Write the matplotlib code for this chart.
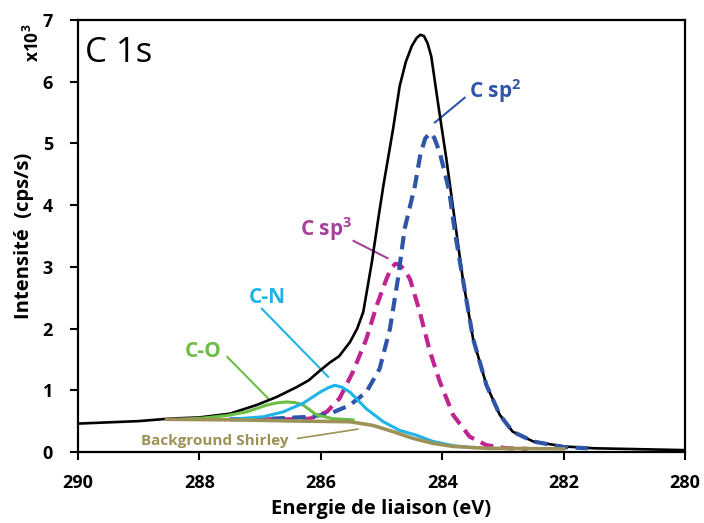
import matplotlib
matplotlib.use("Agg")
import matplotlib.pyplot as plt

plt.rcParams['font.family'] = ['Open Sans', 'DejaVu Sans']
plt.rcParams['mathtext.fontset'] = 'custom'
plt.rcParams['mathtext.rm'] = 'Open Sans'
plt.rcParams['mathtext.bf'] = 'Open Sans:bold'

# measured spectrum (x10^3 cps/s) vs binding energy (eV)
exp_x = [290.0, 289.5, 289.0, 288.5, 288.0, 287.5, 287.06, 286.73, 286.4, 286.2,
         286.0, 285.85, 285.7, 285.52, 285.4, 285.3, 285.16, 285.05, 284.97, 284.81,
         284.7, 284.6, 284.5, 284.42, 284.36, 284.3, 284.24, 284.18, 284.07, 283.93,
         283.82, 283.66, 283.49, 283.27, 283.05, 282.84, 282.5, 282.0, 281.5, 281.0,
         280.5, 280.0]
exp_y = [0.46, 0.48, 0.50, 0.54, 0.56, 0.62, 0.76, 0.89, 1.05, 1.16,
         1.33, 1.45, 1.55, 1.78, 2.0, 2.27, 3.07, 3.8, 4.31, 5.23,
         5.93, 6.32, 6.58, 6.71, 6.76, 6.74, 6.62, 6.41, 5.66, 4.74,
         3.95, 2.80, 1.83, 1.08, 0.60, 0.33, 0.17, 0.09, 0.06, 0.05,
         0.04, 0.03]

# fitted components
sp2_x = [287.5, 286.8, 286.18, 285.85, 285.52, 285.25, 285.03, 284.86, 284.73, 284.62,
         284.45, 284.36, 284.28, 284.2, 284.13, 284.04, 283.95, 283.88, 283.79, 283.66,
         283.49, 283.27, 283.05, 282.84, 282.5, 282.0, 281.6]
sp2_y = [0.53, 0.54, 0.57, 0.62, 0.76, 0.97, 1.35, 2.0, 2.80, 3.61,
         4.31, 4.82, 5.08, 5.17, 5.09, 4.85, 4.5, 4.2, 3.56, 2.80,
         1.83, 1.08, 0.60, 0.33, 0.17, 0.08, 0.06]

sp3_x = [287.0, 286.5, 286.18, 285.9, 285.69, 285.47, 285.25, 285.08, 284.92, 284.84,
         284.77, 284.7, 284.62, 284.53, 284.37, 284.2, 284.04, 283.82, 283.55, 283.27,
         282.94, 282.6]
sp3_y = [0.53, 0.53, 0.54, 0.65, 0.87, 1.30, 1.83, 2.37, 2.80, 2.98,
         3.05, 3.03, 2.95, 2.80, 2.27, 1.62, 1.14, 0.60, 0.25, 0.11,
         0.06, 0.05]

cn_x = [287.5, 286.95, 286.62, 286.29, 286.01, 285.88, 285.77, 285.65, 285.52, 285.25,
        284.97, 284.7, 284.42, 284.15, 283.8, 283.5]
cn_y = [0.53, 0.57, 0.65, 0.79, 0.97, 1.04, 1.08, 1.05, 0.97, 0.70,
        0.49, 0.35, 0.27, 0.17, 0.10, 0.07]

co_x = [288.3, 287.93, 287.55, 287.22, 286.89, 286.7, 286.56, 286.42, 286.29, 286.07,
        285.8, 285.47]
co_y = [0.53, 0.55, 0.59, 0.65, 0.76, 0.80, 0.81, 0.80, 0.76, 0.60,
        0.54, 0.52]

bg_x = [288.54, 287.38, 286.29, 285.52, 285.14, 284.81, 284.48, 284.15, 283.82, 283.27, 282.0]
bg_y = [0.53, 0.52, 0.50, 0.49, 0.43, 0.33, 0.22, 0.14, 0.09, 0.06, 0.05]

xticks = [290, 288, 286, 284, 282, 280]
yticks = [0, 1, 2, 3, 4, 5, 6, 7]

c_black = '#000000'
c_sp2 = '#2E55A8'
c_sp3 = '#C02490'
c_sp3_txt = '#A8409A'
c_cn = '#1EB4E8'
c_co = '#6CBE45'
c_bg = '#9C9157'

fig = plt.figure(figsize=(7.04, 5.23), dpi=100)
ax = fig.add_axes([0.1108, 0.1358, 0.8622, 0.826])

ax.plot(exp_x, exp_y, color=c_black, lw=1.9, zorder=3)
ax.plot(bg_x, bg_y, color=c_bg, lw=2.6, zorder=6)
ax.plot(co_x, co_y, color=c_co, lw=2.2, zorder=5)
ax.plot(cn_x, cn_y, color=c_cn, lw=2.2, zorder=5)
ax.plot(sp3_x, sp3_y, color=c_sp3, lw=3.0, dashes=(3.2, 1.8), zorder=4)
ax.plot(sp2_x, sp2_y, color=c_sp2, lw=3.0, dashes=(3.2, 1.8), zorder=4)

# peak labels and their leader lines
lab = dict(fontsize=15, fontweight='bold', ha='center', va='baseline')
ax.text(283.12, 5.73, r'C sp$^\mathbf{2}$', color=c_sp2, **lab)
ax.plot([283.63, 284.12], [5.74, 5.34], color=c_sp2, lw=1.5)
ax.text(285.92, 3.50, r'C sp$^\mathbf{3}$', color=c_sp3_txt, **lab)
ax.plot([285.46, 284.9], [3.42, 3.14], color=c_sp3_txt, lw=1.5)
ax.text(286.88, 2.41, 'C-N', color=c_cn, **lab)
ax.plot([286.97, 285.88], [2.32, 1.22], color=c_cn, lw=1.5)
ax.text(287.93, 1.545, 'C-O', color=c_co, **lab)
ax.plot([287.54, 286.87], [1.54, 0.87], color=c_co, lw=1.5)
ax.text(287.74, 0.11, 'Background Shirley', color=c_bg, fontsize=11,
        fontweight='bold', ha='center', va='baseline')
ax.plot([286.38, 285.39], [0.22, 0.37], color=c_bg, lw=1.2)

ax.text(0.012, 0.9035, 'C 1s', transform=ax.transAxes, fontsize=25,
        ha='left', va='baseline')

ax.set_xlim(290, 280)
ax.set_ylim(0, 7)
ax.set_xticks(xticks)
ax.set_yticks(yticks)
ax.set_xticklabels([str(t) for t in xticks], fontweight='bold')
ax.set_yticklabels([str(t) for t in yticks], fontweight='bold')
ax.tick_params(labelsize=13, width=1.5, length=6, direction='out')
ax.tick_params(axis='x', pad=10)
ax.tick_params(axis='y', pad=12)
for s in ax.spines.values():
    s.set_linewidth(1.6)

ax.set_xlabel('Energie de liaison (eV)', fontsize=14.5, fontweight='bold', labelpad=5)
ax.set_ylabel('Intensité  (cps/s)', fontsize=14.5, fontweight='bold', labelpad=6)
fig.text(0.047, 0.918, r'x10$^\mathbf{3}$', rotation=90, fontsize=12.5, fontweight='bold',
         ha='center', va='center')

fig.savefig('out.png', dpi=100)
